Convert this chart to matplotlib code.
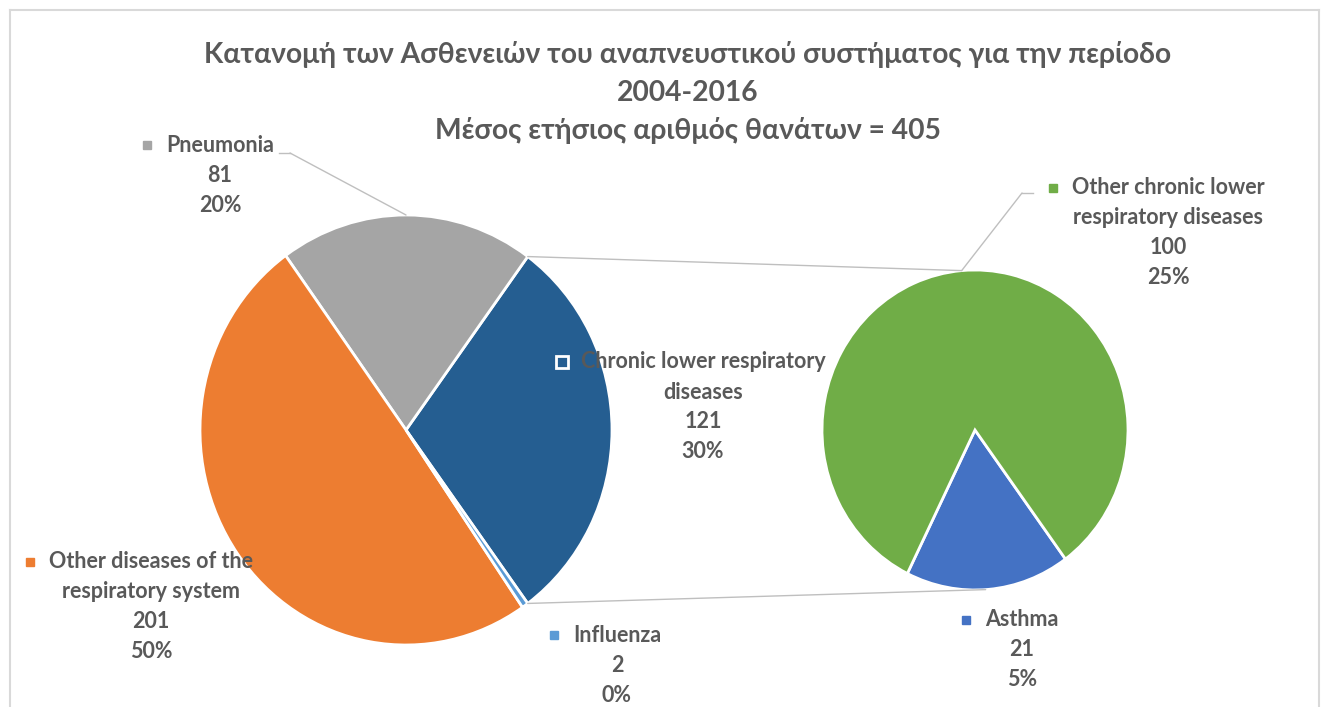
import numpy as np
import matplotlib.pyplot as plt
from matplotlib.lines import Line2D
from matplotlib.patches import ConnectionPatch

plt.rcParams['font.family'] = ['Lato', 'DejaVu Sans']

W, H = 1325, 707
TXT = '#595959'
GRID = '#BFBFBF'

title_lines = ["Κατανομή των Ασθενειών του αναπνευστικού συστήματος για την περίοδο",
               "2004-2016",
               "Μέσος ετήσιος αριθμός θανάτων = 405"]

# primary pie: the first slice is split out into the secondary pie
main_names = [["Chronic lower respiratory", "diseases"], ["Pneumonia"],
              ["Other diseases of the", "respiratory system"], ["Influenza"]]
main_values = [121, 81, 201, 2]
main_colors = ['#255E91', '#A5A5A5', '#ED7D31', '#5B9BD5']

sub_names = [["Asthma"], ["Other chronic lower", "respiratory diseases"]]
sub_values = [21, 100]
sub_colors = ['#4472C4', '#70AD47']

total = sum(main_values)

fig = plt.figure(figsize=(W / 100, H / 100), dpi=100)


def fx(x):
    return x / W


def fy(y):
    return 1 - y / H


def pie_axes(cx, cy, rx, ry):
    return fig.add_axes([fx(cx - rx), fy(cy + ry), 2 * rx / W, 2 * ry / H])


wp = dict(edgecolor='white', linewidth=2)
ax1 = pie_axes(406, 430, 206, 215)
w1, _ = ax1.pie(main_values, colors=main_colors, wedgeprops=wp,
                startangle=-main_values[0] / total * 180)
ax2 = pie_axes(975, 430, 153, 160)
w2, _ = ax2.pie(sub_values, colors=sub_colors, wedgeprops=wp,
                startangle=275 - sub_values[0] / sum(sub_values) * 180)
for ax in (ax1, ax2):
    ax.set_aspect('auto')
    ax.set_xlim(-1, 1)
    ax.set_ylim(-1, 1)


def on_circle(deg):
    t = np.deg2rad(deg)
    return (np.cos(t), np.sin(t))


# lines joining the split slice to the secondary pie
for a1, a2 in [(w1[0].theta2, 95), (w1[0].theta1, 274)]:
    con = ConnectionPatch(xyA=on_circle(a1), coordsA=ax1.transData,
                          xyB=on_circle(a2), coordsB=ax2.transData,
                          color=GRID, lw=1)
    fig.add_artist(con)

# title
for i, line in enumerate(title_lines):
    fig.text(fx(688), fy(55 + 38 * i), line, ha='center', va='center',
             fontsize=20.3, fontweight='bold', color=TXT)


def label(cx, y0, name_lines, value, color, hollow=False):
    lines = name_lines + [str(value), f"{round(value / total * 100)}%"]
    first = None
    for i, line in enumerate(lines):
        t = fig.text(fx(cx), fy(y0 + 30 * i), line, ha='center', va='center',
                     fontsize=15.5, fontweight='bold', color=TXT)
        if i == 0:
            first = t
    r = fig.canvas.get_renderer()
    bb = first.get_window_extent(renderer=r)
    mx = bb.x0 - 19
    if hollow:
        fig.add_artist(Line2D([fx(mx)], [fy(y0)], marker='s', ms=8,
                              mfc=color, mec='white', mew=2))
    else:
        fig.add_artist(Line2D([fx(mx)], [fy(y0)], marker='s', ms=6,
                              mfc=color, mec=color))


label(703, 362, main_names[0], main_values[0], main_colors[0], hollow=True)
label(220, 145, main_names[1], main_values[1], main_colors[1])
label(151, 562, main_names[2], main_values[2], main_colors[2])
label(617, 635, main_names[3], main_values[3], main_colors[3])
label(1022, 620, sub_names[0], sub_values[0], sub_colors[0])
label(1168, 188, sub_names[1], sub_values[1], sub_colors[1])

# leader lines
fig.add_artist(Line2D([fx(279), fx(290)], [fy(153), fy(153)], color=GRID, lw=1))
fig.add_artist(ConnectionPatch(xyA=(290, H - 153), coordsA='figure pixels',
                               xyB=on_circle(90), coordsB=ax1.transData,
                               color=GRID, lw=1))
fig.add_artist(Line2D([fx(1033), fx(1022)], [fy(193), fy(193)], color=GRID, lw=1))
fig.add_artist(ConnectionPatch(xyA=(1022, H - 193), coordsA='figure pixels',
                               xyB=on_circle(95), coordsB=ax2.transData,
                               color=GRID, lw=1))

# chart frame
frame = dict(color='#D9D9D9', lw=1.5)
fig.add_artist(Line2D([fx(10), fx(10)], [fy(10), 0], **frame))
fig.add_artist(Line2D([fx(10), fx(1319)], [fy(10), fy(10)], **frame))
fig.add_artist(Line2D([fx(1319), fx(1319)], [fy(10), 0], **frame))

fig.savefig('out.png', dpi=100)
